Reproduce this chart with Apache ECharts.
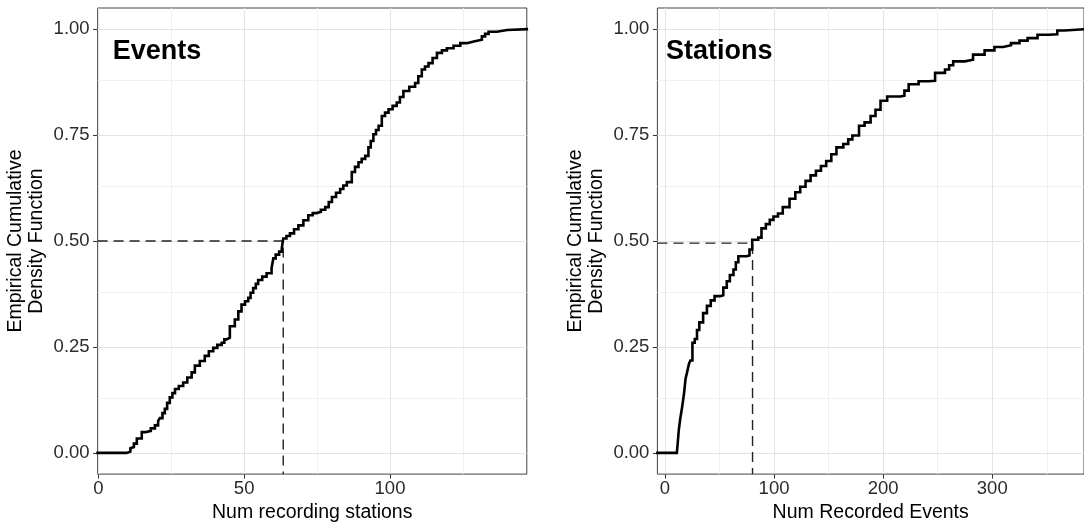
<!DOCTYPE html>
<html><head><meta charset="utf-8">
<script src="https://cdn.jsdelivr.net/npm/echarts@6/dist/echarts.min.js"></script>
<style>html,body{margin:0;padding:0;background:#fff}#c{width:1084px;height:528px}</style>
</head><body><div id="c"></div>
<script>
// ---- data ----
const eventsEcdf = [
[6.5,0.000],[9.7,0.003],[11.0,0.011],[11.4,0.014],[12.2,0.022],[13.2,0.034],[14.9,0.049],[16.2,0.052],[18.0,0.058],[19.4,0.065],
[20.5,0.075],[21.1,0.082],[22.0,0.094],[22.8,0.104],[23.6,0.118],[24.5,0.131],[25.4,0.141],[26.3,0.151],[27.6,0.158],[29.1,0.166],
[30.5,0.178],[32.0,0.190],[33.1,0.206],[34.8,0.217],[36.5,0.229],[37.9,0.240],[39.4,0.248],[40.8,0.255],[42.3,0.260],[43.2,0.268],
[44.0,0.272],[45.1,0.299],[46.8,0.315],[48.0,0.334],[49.1,0.350],[50.3,0.358],[51.4,0.366],[52.2,0.378],[53.1,0.389],[54.0,0.399],
[54.8,0.408],[56.2,0.416],[57.7,0.424],[59.4,0.436],[60.0,0.459],[60.8,0.468],[62.0,0.475],[62.9,0.483],[63.4,0.506],[64.5,0.512],
[65.7,0.518],[67.1,0.528],[68.6,0.537],[70.3,0.549],[72.0,0.561],[73.5,0.566],[74.9,0.569],[76.3,0.574],[77.8,0.580],[79.0,0.592],
[80.1,0.604],[81.5,0.614],[82.9,0.623],[84.0,0.631],[85.2,0.639],[86.9,0.663],[88.0,0.675],[89.2,0.686],[90.3,0.694],[91.5,0.701],
[92.6,0.721],[93.4,0.736],[94.3,0.752],[95.2,0.762],[96.1,0.772],[97.2,0.795],[98.3,0.803],[99.5,0.811],[100.9,0.819],[102.3,0.827],
[103.4,0.840],[104.6,0.854],[106.6,0.864],[108.6,0.873],[109.7,0.889],[110.9,0.905],[112.0,0.912],[113.2,0.920],[114.6,0.932],[116.1,0.944],
[117.8,0.950],[119.5,0.955],[121.8,0.961],[124.1,0.967],[126.4,0.971],[128.7,0.975],[131.5,0.983],[132.6,0.989],[133.8,0.994],[136.6,0.998],
[140.2,1.000]
];
const stationsEcdf = [
[10.9,0.000],[11.3,0.010],[12.7,0.054],[14.0,0.080],[15.8,0.109],[17.5,0.140],[18.9,0.175],[20.3,0.190],[22.0,0.210],[23.3,0.218],
[25.2,0.260],[27.3,0.269],[29.4,0.290],[31.5,0.308],[35.0,0.330],[38.5,0.347],[42.0,0.360],[45.5,0.370],[50.6,0.372],[53.5,0.390],
[56.7,0.405],[59.5,0.420],[62.8,0.433],[65.0,0.450],[67.3,0.464],[74.8,0.466],[77.5,0.480],[80.0,0.503],[85.5,0.508],[88.5,0.530],
[92.5,0.540],[96.1,0.550],[99.5,0.558],[103.6,0.565],[108.0,0.580],[114.2,0.600],[119.5,0.615],[124.0,0.628],[128.9,0.642],[133.5,0.655],
[138.4,0.666],[143.0,0.677],[147.8,0.689],[152.5,0.705],[157.2,0.721],[163.5,0.729],[168.0,0.740],[171.8,0.749],[177.9,0.772],[183.0,0.780],
[188.5,0.795],[193.0,0.810],[197.6,0.831],[203.7,0.841],[215.8,0.843],[219.5,0.855],[223.4,0.870],[232.5,0.877],[241.5,0.878],[247.6,0.897],
[256.7,0.905],[260.5,0.915],[264.2,0.924],[274.8,0.928],[282.4,0.940],[293.0,0.950],[302.0,0.958],[310.0,0.962],[317.2,0.967],[325.0,0.973],
[332.4,0.979],[341.5,0.987],[352.0,0.988],[359.6,0.997],[366.3,1.000]
];
const eventsMedian = [63.4, 0.5];
const stationsMedian = [80.3, 0.495];
const yTicks = [0, 0.25, 0.5, 0.75, 1];
const yMinor = [0.125, 0.375, 0.625, 0.875];
const eventsXTicks = [0, 50, 100];
const eventsXMinor = [25, 75, 125];
const stationsXTicks = [0, 100, 200, 300];
const stationsXMinor = [50, 150, 250, 350];
const eventsXRange = [-0.24, 146.9];
const stationsXRange = [-6.9, 384.1];
const yRange = [-0.05, 1.05];
const panelTitles = ['Events', 'Stations'];
const xTitles = ['Num recording stations', 'Num Recorded Events'];
const yTitle = 'Empirical Cumulative\nDensity Function';

// ---- chart ----
const FONT = "'Liberation Sans', Arial, Helvetica, sans-serif";
const chart = echarts.init(document.getElementById('c'), null, {renderer: 'canvas'});

function gridCfg(left) {
  return {left: left, top: 8, width: 429.2, height: 469.5, show: true,
          borderColor: '#444', borderWidth: 1, backgroundColor: '#fff', containLabel: false};
}
function xAxisCfg(gi, range, ticks, name) {
  return {type: 'value', gridIndex: gi, min: range[0], max: range[1],
    name: name, nameLocation: 'middle', nameGap: 26,
    nameTextStyle: {fontSize: 19.5, color: '#000', fontFamily: FONT},
    axisLine: {show: false, onZero: false}, splitLine: {show: false},
    axisTick: {show: true, customValues: ticks, length: 4.5, inside: false, lineStyle: {color: '#333', width: 1}},
    axisLabel: {customValues: ticks, fontSize: 18.5, color: '#2b2b2b', margin: 5, fontFamily: FONT}};
}
function yAxisCfg(gi) {
  return {type: 'value', gridIndex: gi, min: yRange[0], max: yRange[1],
    name: yTitle, nameLocation: 'middle', nameGap: 50,
    nameTextStyle: {fontSize: 19.5, color: '#000', fontFamily: FONT, lineHeight: 21},
    axisLine: {show: false, onZero: false}, splitLine: {show: false},
    axisTick: {show: true, customValues: yTicks, length: 4.5, inside: false, lineStyle: {color: '#333', width: 1}},
    axisLabel: {customValues: yTicks, fontSize: 18.5, color: '#2b2b2b', margin: 8, fontFamily: FONT,
                formatter: v => v.toFixed(2)}};
}
function gridLinesSeries(gi, xMajor, xMinor) {
  const major = {color: '#e4e4e4', width: 1.1, type: 'solid'};
  const minor = {color: '#eeeeee', width: 0.9, type: 'solid'};
  const d = [];
  yMinor.forEach(v => d.push({yAxis: v, lineStyle: minor}));
  xMinor.forEach(v => d.push({xAxis: v, lineStyle: minor}));
  yTicks.forEach(v => d.push({yAxis: v, lineStyle: major}));
  xMajor.forEach(v => d.push({xAxis: v, lineStyle: major}));
  return {type: 'line', xAxisIndex: gi, yAxisIndex: gi, data: [], silent: true, z: 1,
    markLine: {silent: true, symbol: ['none', 'none'], label: {show: false}, z: 1,
               animation: false, data: d}};
}
function ecdfSeries(gi, pts, range) {
  const data = [[range[0], 0]].concat(pts).concat([[range[1], 1]]);
  return {type: 'line', xAxisIndex: gi, yAxisIndex: gi, data: data, step: 'end',
    symbol: 'none', showSymbol: false, z: 4, clip: true,
    lineStyle: {color: '#000', width: 2.6, join: 'miter', cap: 'square'}};
}
function medianSeries(gi, m, range) {
  return {type: 'line', xAxisIndex: gi, yAxisIndex: gi, symbol: 'none', z: 3, clip: true,
    data: [[range[0], m[1]], [m[0], m[1]], [m[0], yRange[0]]],
    lineStyle: {color: '#222', width: 1.4, type: [10, 6]}};
}

chart.setOption({
  animation: false,
  backgroundColor: '#fff',
  textStyle: {fontFamily: FONT},
  grid: [gridCfg(97.6), gridCfg(657.4)],
  xAxis: [xAxisCfg(0, eventsXRange, eventsXTicks, xTitles[0]),
          xAxisCfg(1, stationsXRange, stationsXTicks, xTitles[1])],
  yAxis: [yAxisCfg(0), yAxisCfg(1)],
  series: [
    gridLinesSeries(0, eventsXTicks, eventsXMinor),
    gridLinesSeries(1, stationsXTicks, stationsXMinor),
    medianSeries(0, eventsMedian, eventsXRange),
    medianSeries(1, stationsMedian, stationsXRange),
    ecdfSeries(0, eventsEcdf, eventsXRange),
    ecdfSeries(1, stationsEcdf, stationsXRange)
  ],
  graphic: [
    {type: 'text', x: 112.7, y: 51.6, z: 10,
     style: {text: panelTitles[0], font: 'bold 27px ' + FONT, fill: '#000', verticalAlign: 'middle', align: 'left'}},
    {type: 'text', x: 666, y: 51.6, z: 10,
     style: {text: panelTitles[1], font: 'bold 27px ' + FONT, fill: '#000', verticalAlign: 'middle', align: 'left'}}
  ]
});
</script></body></html>
